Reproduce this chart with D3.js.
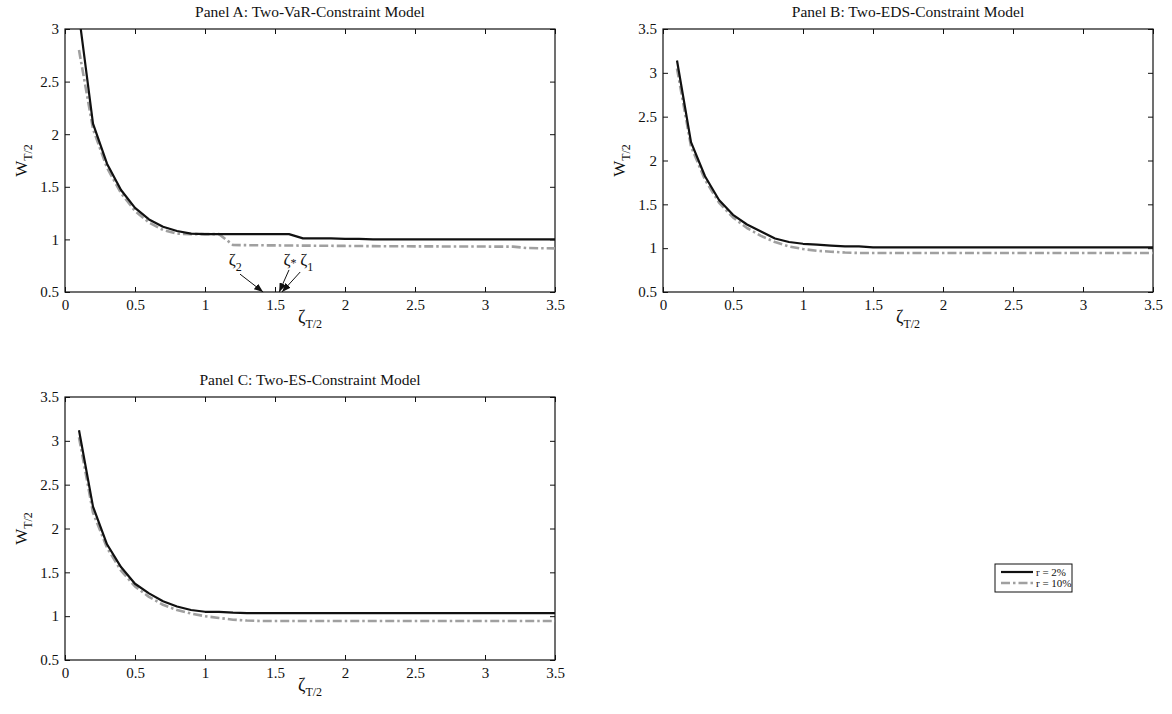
<!DOCTYPE html>
<html>
<head>
<meta charset="utf-8">
<script src="https://cdn.jsdelivr.net/npm/d3@7"></script>
<style>
  body { margin: 0; background: #fff; }
  svg { font-family: "Liberation Serif", "Times New Roman", serif; }
</style>
</head>
<body>
<div id="chart"></div>
<script>
const W = 1172, H = 714;

// zeta grid (x values shared by every panel)
const zeta = [0.1, 0.2, 0.3, 0.4, 0.5, 0.6, 0.7, 0.8, 0.9, 1.0,
              1.1, 1.2, 1.3, 1.4, 1.5, 1.6, 1.7, 1.8, 1.9, 2.0,
              2.1, 2.2, 2.3, 2.4, 2.5, 2.6, 2.7, 2.8, 2.9, 3.0,
              3.1, 3.2, 3.3, 3.4, 3.5];

// Panel A: Two-VaR-Constraint
const varLow = [3.13, 2.10, 1.72, 1.47, 1.30, 1.19, 1.12, 1.08, 1.055, 1.05,
                1.05, 1.05, 1.05, 1.05, 1.05, 1.05, 1.01, 1.01, 1.01, 1.005,
                1.005, 1.0, 1.0, 1.0, 1.0, 1.0, 1.0, 1.0, 1.0, 1.0,
                1.0, 1.0, 1.0, 1.0, 1.0];
const varHigh = [2.80, 2.05, 1.68, 1.44, 1.27, 1.16, 1.09, 1.055, 1.05, 1.05,
                 1.05, 0.947, 0.945, 0.944, 0.943, 0.942, 0.941, 0.940, 0.939, 0.938,
                 0.937, 0.936, 0.935, 0.935, 0.934, 0.934, 0.933, 0.933, 0.932, 0.932,
                 0.931, 0.931, 0.918, 0.916, 0.915];

// Panel B: Two-EDS-Constraint
const edsLow = [3.14, 2.21, 1.82, 1.55, 1.38, 1.27, 1.19, 1.11, 1.07, 1.05,
                1.04, 1.03, 1.02, 1.02, 1.01, 1.01, 1.01, 1.01, 1.01, 1.01,
                1.01, 1.01, 1.01, 1.01, 1.01, 1.01, 1.01, 1.01, 1.01, 1.01,
                1.01, 1.01, 1.01, 1.01, 1.01];
const edsHigh = [3.05, 2.16, 1.78, 1.52, 1.35, 1.23, 1.14, 1.07, 1.02, 0.99,
                 0.97, 0.96, 0.95, 0.945, 0.945, 0.945, 0.945, 0.945, 0.945, 0.945,
                 0.945, 0.945, 0.945, 0.945, 0.945, 0.945, 0.945, 0.945, 0.945, 0.945,
                 0.945, 0.945, 0.945, 0.945, 0.945];

// Panel C: Two-ES-Constraint
const esLow = [3.12, 2.25, 1.82, 1.56, 1.37, 1.26, 1.17, 1.11, 1.07, 1.05,
               1.05, 1.04, 1.035, 1.035, 1.035, 1.035, 1.035, 1.035, 1.035, 1.035,
               1.035, 1.035, 1.035, 1.035, 1.035, 1.035, 1.035, 1.035, 1.035, 1.035,
               1.035, 1.035, 1.035, 1.035, 1.035];
const esHigh = [3.04, 2.18, 1.78, 1.52, 1.34, 1.22, 1.13, 1.07, 1.03, 1.0,
                0.98, 0.96, 0.95, 0.945, 0.945, 0.945, 0.945, 0.945, 0.945, 0.945,
                0.945, 0.945, 0.945, 0.945, 0.945, 0.945, 0.945, 0.945, 0.945, 0.945,
                0.945, 0.945, 0.945, 0.945, 0.945];

const xTicks = [0, 0.5, 1, 1.5, 2, 2.5, 3, 3.5];
const yTicksA = [0.5, 1, 1.5, 2, 2.5, 3];
const yTicksBC = [0.5, 1, 1.5, 2, 2.5, 3, 3.5];

const seriesNames = ["r = 2%", "r = 10%"];

// Panel A markers on the x axis
const markers = [
  { sym: "ζ", sub: "2", textX: 1.17, textY: 0.76, fromX: 1.25, fromY: 0.67, toX: 1.415 },
  { sym: "ζ", sub: "*", textX: 1.56, textY: 0.76, fromX: 1.6, fromY: 0.71, toX: 1.53 },
  { sym: "ζ", sub: "1", textX: 1.68, textY: 0.76, fromX: 1.68, fromY: 0.69, toX: 1.55 }
];

const panels = [
  { title: "Panel A: Two-VaR-Constraint Model", left: 65, top: 29, yMax: 3, yTicks: yTicksA, low: varLow, high: varHigh, marks: true },
  { title: "Panel B: Two-EDS-Constraint Model", left: 663, top: 29, yMax: 3.5, yTicks: yTicksBC, low: edsLow, high: edsHigh },
  { title: "Panel C: Two-ES-Constraint Model", left: 65, top: 397, yMax: 3.5, yTicks: yTicksBC, low: esLow, high: esHigh }
];
const pw = 490, ph = 263;

const lowStyle = { stroke: "#111", width: 2.2, dash: null };
const highStyle = { stroke: "#a0a0a0", width: 2.6, dash: "9,3,2.5,3" };

const svg = d3.select("#chart").append("svg").attr("width", W).attr("height", H);
const defs = svg.append("defs");
defs.append("marker")
    .attr("id", "arrowhead")
    .attr("markerWidth", 9).attr("markerHeight", 7)
    .attr("refX", 9).attr("refY", 3.5)
    .attr("orient", "auto")
    .attr("markerUnits", "userSpaceOnUse")
    .append("path")
    .attr("d", "M0,0 L9,3.5 L0,7 z")
    .attr("fill", "#111");

panels.forEach((p, pi) => {
  const g = svg.append("g").attr("transform", `translate(${p.left},${p.top})`);
  const x = d3.scaleLinear().domain([0, 3.5]).range([0, pw]);
  const y = d3.scaleLinear().domain([0.5, p.yMax]).range([ph, 0]);

  defs.append("clipPath").attr("id", "clip" + pi)
    .append("rect").attr("width", pw).attr("height", ph);

  // axes, MATLAB style: ticks pointing inward on all four sides
  const styleAxis = sel => {
    sel.select(".domain").remove();
    sel.selectAll(".tick line").attr("stroke", "#111");
    sel.selectAll(".tick text").attr("fill", "#111").style("font-size", "15px")
       .style("font-family", "'Liberation Serif', serif");
  };
  g.append("g").attr("transform", `translate(0,${ph})`)
    .call(d3.axisBottom(x).tickValues(xTicks).tickSize(-5).tickPadding(7).tickFormat(d3.format("")))
    .call(styleAxis);
  g.append("g")
    .call(d3.axisTop(x).tickValues(xTicks).tickSize(-5).tickFormat(""))
    .call(styleAxis);
  g.append("g")
    .call(d3.axisLeft(y).tickValues(p.yTicks).tickSize(-5).tickPadding(6).tickFormat(d3.format("")))
    .call(styleAxis);
  g.append("g").attr("transform", `translate(${pw},0)`)
    .call(d3.axisRight(y).tickValues(p.yTicks).tickSize(-5).tickFormat(""))
    .call(styleAxis);

  g.append("rect").attr("width", pw).attr("height", ph)
    .attr("fill", "none").attr("stroke", "#111").attr("stroke-width", 1.2);

  const line = d3.line().x(d => x(d[0])).y(d => y(d[1]));
  const plot = g.append("g").attr("clip-path", `url(#clip${pi})`);
  [[p.high, highStyle], [p.low, lowStyle]].forEach(([vals, st]) => {
    plot.append("path")
      .datum(zeta.map((z, i) => [z, vals[i]]))
      .attr("d", line)
      .attr("fill", "none")
      .attr("stroke", st.stroke)
      .attr("stroke-width", st.width)
      .attr("stroke-dasharray", st.dash)
      .attr("stroke-linejoin", "round");
  });

  // title
  g.append("text")
    .attr("x", pw / 2).attr("y", -12)
    .attr("text-anchor", "middle")
    .style("font-size", "15.5px")
    .attr("fill", "#111")
    .text(p.title);

  // x label: zeta_{T/2}
  const xl = g.append("text")
    .attr("x", pw / 2).attr("y", ph + 31)
    .attr("text-anchor", "middle")
    .attr("fill", "#111")
    .style("font-size", "18px");
  xl.append("tspan").text("ζ");
  xl.append("tspan").attr("dy", 5).style("font-size", "12px").text("T/2");

  // y label: W_{T/2}
  const yl = g.append("text")
    .attr("transform", `translate(-38,${ph / 2}) rotate(-90)`)
    .attr("text-anchor", "middle")
    .attr("fill", "#111")
    .style("font-size", "17px");
  yl.append("tspan").text("W");
  yl.append("tspan").attr("dy", 5).style("font-size", "12px").text("T/2");

  if (p.marks) {
    markers.forEach(m => {
      g.append("line")
        .attr("x1", x(m.fromX)).attr("y1", y(m.fromY))
        .attr("x2", x(m.toX)).attr("y2", y(0.5))
        .attr("stroke", "#111").attr("stroke-width", 1)
        .attr("marker-end", "url(#arrowhead)");
      const t = g.append("text")
        .attr("x", x(m.textX)).attr("y", y(m.textY))
        .attr("fill", "#111")
        .style("font-size", "17px");
      t.append("tspan").text(m.sym);
      t.append("tspan").attr("dy", m.sub === "*" ? 2 : 6).style("font-size", "12px").text(m.sub);
    });
  }
});

// legend
const lg = svg.append("g").attr("transform", "translate(995,564)");
lg.append("rect").attr("width", 77).attr("height", 28)
  .attr("fill", "#fff").attr("stroke", "#111").attr("stroke-width", 1);
[lowStyle, highStyle].forEach((st, i) => {
  const yy = 8 + i * 11;
  lg.append("line")
    .attr("x1", 6).attr("x2", 38).attr("y1", yy).attr("y2", yy)
    .attr("stroke", st.stroke).attr("stroke-width", st.width)
    .attr("stroke-dasharray", st.dash);
  lg.append("text")
    .attr("x", 41).attr("y", yy + 4)
    .attr("fill", "#111")
    .style("font-size", "11px")
    .text(seriesNames[i]);
});
</script>
</body>
</html>
